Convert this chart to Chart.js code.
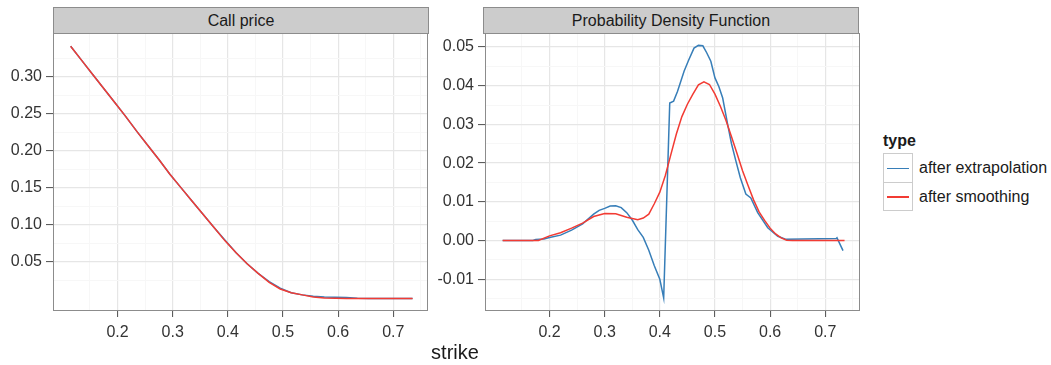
<!DOCTYPE html>
<html lang="en">
<head>
    <meta charset="UTF-8">
    <title>Call price and PDF</title>
    <script src="https://cdn.jsdelivr.net/npm/chart.js"></script>
    <style>
        body {
            margin: 0;
            background: #fff;
            font-family: "Liberation Sans", Arial, sans-serif;
            color: #1a1a1a;
        }
        .wrap {
            position: relative;
            width: 1051px;
            height: 365px;
        }
        .panel {
            position: absolute;
            top: 33px;
        }
        .strip {
            position: absolute;
            top: 7px;
            height: 25px;
            background: #cccccc;
            border: 1px solid #8c8c8c;
            box-sizing: content-box;
            text-align: center;
            font-size: 16px;
            line-height: 26px;
            color: #1a1a1a;
        }
        .xtitle {
            position: absolute;
            left: 405px;
            width: 100px;
            top: 341px;
            text-align: center;
            font-size: 20px;
        }
        .legend {
            position: absolute;
            left: 883px;
            top: 132px;
            font-size: 16px;
        }
        .legend .ttl {
            font-weight: bold;
            height: 21px;
        }
        .legend .row {
            display: flex;
            align-items: center;
            height: 29px;
        }
        .legend .key {
            width: 28px;
            height: 28px;
            border: 1px solid #cccccc;
            border-top-width: 0;
            position: relative;
            margin-right: 6px;
        }
        .legend .key span {
            position: absolute;
            left: 3px;
            right: 3px;
            top: 14px;
            height: 1.5px;
        }
    </style>
</head>
<body>
<div class="wrap">
    <div class="strip" style="left:53px; width:374px;">Call price</div>
    <div class="strip" style="left:483px; width:374px;">Probability Density Function</div>
    <div class="panel" style="left:0px; width:432px; height:312px;"><canvas id="callChart" width="432" height="312"></canvas></div>
    <div class="panel" style="left:432px; width:432px; height:312px;"><canvas id="pdfChart" width="432" height="312"></canvas></div>
    <div class="xtitle">strike</div>
    <div class="legend">
        <div class="ttl">type</div>
        <div class="row"><div class="key" style="border-top-width:1px"><span style="background:#377EB8"></span></div>after extrapolation</div>
        <div class="row"><div class="key"><span style="background:#F23B33"></span></div>after smoothing</div>
    </div>
</div>

<script>
    // values
    const callStrike = [0.115, 0.135, 0.155, 0.175, 0.195, 0.215, 0.235, 0.255, 0.275, 0.295,
        0.315, 0.335, 0.355, 0.375, 0.395, 0.415, 0.435, 0.455, 0.475, 0.495,
        0.515, 0.535, 0.555, 0.575, 0.595, 0.615, 0.635, 0.655, 0.675, 0.695, 0.715, 0.735];
    const callExtrap = [0.341, 0.322, 0.303, 0.284, 0.265, 0.246, 0.226, 0.207, 0.188, 0.168,
        0.150, 0.132, 0.114, 0.096, 0.079, 0.062, 0.047, 0.034, 0.023, 0.014,
        0.008, 0.005, 0.003, 0.002, 0.0018, 0.0016, 0.0003, 0.0001, 0, 0, 0, 0];
    const callSmooth = [0.341, 0.322, 0.303, 0.284, 0.265, 0.246, 0.226, 0.207, 0.188, 0.168,
        0.150, 0.132, 0.114, 0.096, 0.078, 0.062, 0.047, 0.034, 0.022, 0.013,
        0.008, 0.005, 0.002, 0.0008, 0.0003, 0, 0, 0, 0, 0, 0, 0];

    const pdfExtrapStrike = [0.115, 0.17, 0.175, 0.19, 0.2, 0.22, 0.24, 0.26, 0.28, 0.29,
        0.30, 0.31, 0.32, 0.33, 0.34, 0.35, 0.36, 0.37, 0.38, 0.39,
        0.40, 0.407, 0.418, 0.425, 0.432, 0.444, 0.452, 0.462, 0.47, 0.478,
        0.485, 0.4925, 0.50, 0.507, 0.514, 0.523, 0.53, 0.538, 0.546, 0.556,
        0.565, 0.5775, 0.5957, 0.614, 0.629, 0.72, 0.7213, 0.7322];
    const pdfExtrap = [0, 0, 0.0003, 0.0004, 0.0008, 0.0014, 0.0027, 0.0043, 0.0068, 0.0078,
        0.0083, 0.0089, 0.0090, 0.0085, 0.0072, 0.0053, 0.0028, 0.0008, -0.0025, -0.0065,
        -0.0100, -0.0148, 0.0355, 0.0360, 0.0385, 0.0437, 0.0465, 0.0497, 0.0504, 0.0503,
        0.0485, 0.0463, 0.0420, 0.0398, 0.0368, 0.0300, 0.0250, 0.0205, 0.0162, 0.0120,
        0.0110, 0.0072, 0.0033, 0.0011, 0.0003, 0.0005, 0.0007, -0.0026];

    const pdfSmoothStrike = [0.115, 0.15, 0.18, 0.2, 0.22, 0.24, 0.26, 0.28, 0.3, 0.32,
        0.34, 0.36, 0.37, 0.38, 0.39, 0.40, 0.41, 0.42, 0.43, 0.44,
        0.45, 0.46, 0.47, 0.48, 0.49, 0.50, 0.51, 0.52, 0.53, 0.54,
        0.55, 0.56, 0.57, 0.58, 0.59, 0.60, 0.61, 0.62, 0.63, 0.64, 0.735];
    const pdfSmooth = [0, 0, 0, 0.0012, 0.0020, 0.0032, 0.0045, 0.0062, 0.0070, 0.0069,
        0.0060, 0.0054, 0.0058, 0.0068, 0.0095, 0.0125, 0.0168, 0.0222, 0.0275, 0.0320,
        0.0352, 0.0378, 0.0402, 0.0410, 0.0403, 0.0378, 0.0346, 0.0310, 0.0268, 0.0225,
        0.0180, 0.0142, 0.0105, 0.0074, 0.0052, 0.0032, 0.0017, 0.0007, 0.0001, 0, 0];

    const xMajor = [0.2, 0.3, 0.4, 0.5, 0.6, 0.7];
    const xMinor = [0.15, 0.25, 0.35, 0.45, 0.55, 0.65, 0.75];
    const callMajor = [0.05, 0.10, 0.15, 0.20, 0.25, 0.30];
    const callMinor = [0.025, 0.075, 0.125, 0.175, 0.225, 0.275, 0.325];
    const pdfMajor = [-0.01, 0, 0.01, 0.02, 0.03, 0.04, 0.05];
    const pdfMinor = [-0.015, -0.005, 0.005, 0.015, 0.025, 0.035, 0.045];

    const blue = '#377EB8';
    const red = '#F23B33';

    function pairs(xs, ys) {
        return xs.map((x, i) => ({ x: x, y: ys[i] }));
    }

    function isMajor(list, v) {
        return list.some(m => Math.abs(m - v) < 1e-9);
    }

    // draws the grey border round the plotting panel
    const panelBox = {
        id: 'panelBox',
        afterDraw(chart) {
            const a = chart.chartArea;
            const ctx = chart.ctx;
            ctx.save();
            ctx.strokeStyle = '#8c8c8c';
            ctx.lineWidth = 1;
            ctx.strokeRect(Math.round(a.left) + 0.5, Math.round(a.top) + 0.5,
                Math.round(a.right - a.left) - 1, Math.round(a.bottom - a.top) - 1);
            ctx.restore();
        }
    };

    function makeScale(major, minor, min, max, digits, isX) {
        return {
            type: 'linear',
            min: min,
            max: max,
            afterBuildTicks: s => {
                s.ticks = major.concat(minor).sort((a, b) => a - b).map(v => ({ value: v }));
            },
            afterFit: s => {
                if (isX) s.height = 34; else s.width = 53;
                // keep the panel pinned to the canvas edges
                s.paddingTop = 0;
                s.paddingBottom = 0;
                s.paddingLeft = 0;
                s.paddingRight = 0;
            },
            border: { display: false },
            grid: {
                color: c => isMajor(major, c.tick.value) ? '#e6e6e6' : '#f7f7f7',
                lineWidth: c => isMajor(major, c.tick.value) ? 1.2 : 1,
                tickColor: c => isMajor(major, c.tick.value) ? '#4d4d4d' : 'rgba(0,0,0,0)',
                tickLength: isX ? 6 : 7,
                tickWidth: 1
            },
            ticks: {
                autoSkip: false,
                maxRotation: 0,
                padding: isX ? 6 : 4,
                color: '#333333',
                font: { family: '"Liberation Sans", Arial, sans-serif', size: 16 },
                callback: v => isMajor(major, v) ? v.toFixed(digits) : ''
            }
        };
    }

    function renderPanel(id, extrap, smooth, yMajor, yMinor, yMin, yMax) {
        const ctx = document.getElementById(id).getContext('2d');
        new Chart(ctx, {
            type: 'line',
            data: {
                datasets: [
                    {
                        label: 'after smoothing',
                        data: smooth,
                        borderColor: red,
                        borderWidth: 1.5,
                        pointRadius: 0,
                        tension: 0,
                        order: 0
                    },
                    {
                        label: 'after extrapolation',
                        data: extrap,
                        borderColor: blue,
                        borderWidth: 1.5,
                        pointRadius: 0,
                        tension: 0,
                        order: 1
                    }
                ]
            },
            options: {
                responsive: false,
                animation: false,
                layout: { padding: { top: 0, right: 4, left: 0, bottom: 0 } },
                plugins: {
                    legend: { display: false },
                    tooltip: { enabled: false }
                },
                scales: {
                    x: makeScale(xMajor, xMinor, 0.083, 0.763, 1, true),
                    y: makeScale(yMajor, yMinor, yMin, yMax, 2, false)
                }
            },
            plugins: [panelBox]
        });
    }

    renderPanel('callChart', pairs(callStrike, callExtrap), pairs(callStrike, callSmooth),
        callMajor, callMinor, -0.0168, 0.359);
    renderPanel('pdfChart', pairs(pdfExtrapStrike, pdfExtrap), pairs(pdfSmoothStrike, pdfSmooth),
        pdfMajor, pdfMinor, -0.0182, 0.0536);
</script>
</body>
</html>
